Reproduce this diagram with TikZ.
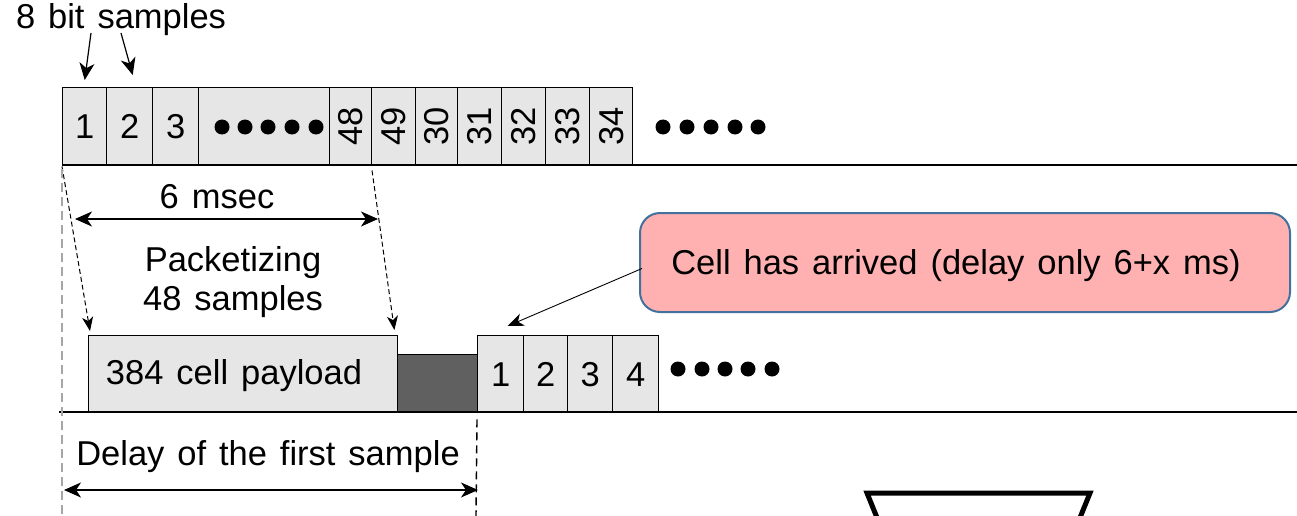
\documentclass[tikz,border=0pt]{standalone}
\usepackage{fontspec}
\setmainfont[WordSpace={1.35,1,1}]{Liberation Sans}
\usetikzlibrary{arrows.meta,calc}
\definecolor{cellgray}{HTML}{E6E6E6}
\definecolor{headgray}{HTML}{606060}
\definecolor{callfill}{HTML}{FFB1B1}
\definecolor{callline}{HTML}{41719C}
\definecolor{guidegray}{HTML}{A6A6A6}

\begin{document}
\begin{tikzpicture}[x=1pt,y=-1pt,
  font=\fontsize{34.5}{40}\selectfont,
  cell/.style={draw=black, line width=1.4pt, fill=cellgray, inner sep=0pt,
    anchor=north west, minimum height=78pt},
  lowcell/.style={cell, minimum height=77pt},
  tip/.style={-{Stealth[length=17pt,width=15pt,inset=5pt]}},
  twotip/.style={{Stealth[length=17pt,width=15pt,inset=5pt]}-{Stealth[length=17pt,width=15pt,inset=5pt]}},
  dashtip/.style={-{Stealth[length=14pt,width=11pt,inset=4pt]}, dash pattern=on 5pt off 3pt, line width=1pt},
  label/.style={inner sep=0pt},
  dot/.style={fill=black, circle, inner sep=0pt, minimum size=15pt},
  baseline/.style={line width=1.4pt}]
\useasboundingbox (0,0) rectangle (1297,516);

% ---- upper stream of samples ----
\node[cell, minimum width=44pt] (c1) at (62,87) {1};
\node[cell, minimum width=46pt] (c2) at (106,87) {2};
\node[cell, minimum width=46pt] (c3) at (152,87) {3};
\node[cell, minimum width=131pt] (cdots) at (198,87) {};
\node[cell, minimum width=42pt] (c48) at (329,87) {\rotatebox{90}{48}};
\node[cell, minimum width=44pt] (c49) at (371,87) {\rotatebox{90}{49}};
\node[cell, minimum width=42pt] (c30) at (415,87) {\rotatebox{90}{30}};
\node[cell, minimum width=44pt] (c31) at (457,87) {\rotatebox{90}{31}};
\node[cell, minimum width=44pt] (c32) at (501,87) {\rotatebox{90}{32}};
\node[cell, minimum width=44pt] (c33) at (545,87) {\rotatebox{90}{33}};
\node[cell, minimum width=43pt] (c34) at (589,87) {\rotatebox{90}{34}};
\foreach \i/\x in {1/222,2/245,3/268,4/292,5/316}
  \node[dot] (ud\i) at (\x,127) {};
\foreach \i/\x in {1/663,2/687,3/711,4/735,5/758}
  \node[dot] (td\i) at (\x,127) {};
\coordinate (topL) at (62,165);
\coordinate (topR) at (1297,165);
\draw[baseline] (topL) -- (topR);

% ---- sample label ----
\node[label] (bits) at (121,20) {8 bit samples};
\coordinate (b1s) at (91,33);
\coordinate (b2s) at (121,33);
\draw[tip, line width=1.2pt] (b1s) -- ($(c1.north)+(0,-7)$);
\draw[tip, line width=1.2pt] (b2s) -- ($(c2.north)+(3,-12)$);

% ---- packetizing interval ----
\node[label] (msec) at (217,197) {6 msec};
\coordinate (m1) at (75,219);
\coordinate (m2) at (378,219);
\draw[twotip, line width=1.2pt] (m1) -- (m2);
\node[label, align=center] (pack) at (233,282) {Packetizing\\[-1pt]48 samples};

% ---- cell on the line ----
\node[lowcell, minimum width=309pt] (pay) at (88,335) {};
\node[label] (paytxt) at (234,376) {384 cell payload};
\node[draw=black, line width=1.4pt, fill=headgray, anchor=north west,
  minimum width=80pt, minimum height=58pt, inner sep=0pt] (head) at (397,354) {};
\node[lowcell, minimum width=46pt] (k1) at (477,335) {1};
\node[lowcell, minimum width=44pt] (k2) at (523,335) {2};
\node[lowcell, minimum width=45pt] (k3) at (567,335) {3};
\node[lowcell, minimum width=46pt] (k4) at (612,335) {4};
\foreach \i/\x in {1/678,2/702,3/725,4/748,5/772}
  \node[dot] (bd\i) at (\x,369) {};
\coordinate (botL) at (59,412);
\coordinate (botR) at (1297,412);
\draw[baseline] (botL) -- (botR);

% ---- dashed projections ----
\draw[dashtip] (c1.south west) -- ($(pay.north west)+(2,-4)$);
\draw[dashtip] ($(c49.south west)+(1,4)$) -- ($(pay.north east)+(-4,-5)$);
\coordinate (g1) at (62,516);
\draw[guidegray, line width=2.6pt, dash pattern=on 9pt off 5pt] ($(c1.south west)+(0,3)$) -- (g1);
\coordinate (g2) at (476,516);
\draw[line width=1.4pt, dash pattern=on 8pt off 5pt] ($(k1.south west)+(0,6)$) -- (g2);

% ---- delay of the first sample ----
\node[label] (delay) at (268,457) {Delay of the first sample};
\coordinate (d1) at (64,490);
\coordinate (d2) at (478,490);
\draw[twotip, line width=1.2pt] (d1) -- (d2);

% ---- callout ----
\node[draw=callline, fill=callfill, line width=2pt, rounded corners=20pt,
  minimum width=650pt, minimum height=99pt, inner sep=0pt] (call) at (965,262.5) {};
\node[label] (calltxt) at (956,266) {Cell has arrived (delay only 6+x ms)};
\draw[-{Stealth[length=16pt,width=13pt,inset=5pt]}, line width=0.9pt]
  ($(call.west)+(3,6)$) -- ($(k1.north)+(7,-9)$);

% ---- outline at the lower edge ----
\begin{scope}
  \clip (0,0) rectangle (1297,516);
  \draw[line width=5pt, line join=miter] (882,530) -- (867,493) -- (1090,493) -- (1075,530);
\end{scope}
\end{tikzpicture}
\end{document}
